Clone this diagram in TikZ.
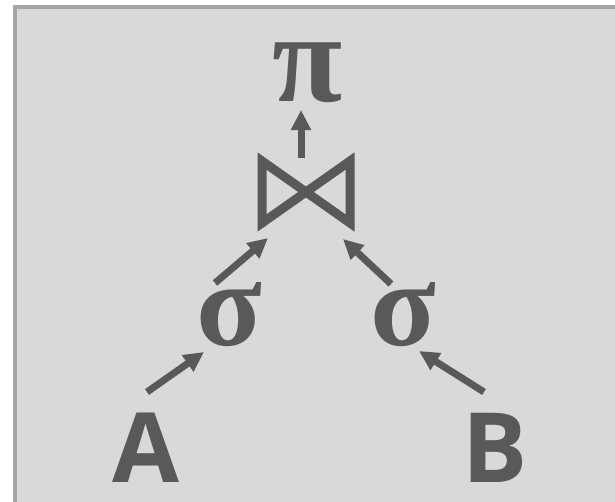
\documentclass[tikz,border=0pt]{standalone}
\usepackage{fontspec}
\setmainfont{Liberation Serif}
\newfontfamily\letterfont{Open Sans}
\usetikzlibrary{arrows.meta}
\definecolor{ink}{HTML}{595959}
\definecolor{frame}{HTML}{A6A6A6}
\definecolor{panel}{HTML}{D9D9D9}
\tikzset{
  glyph/.style={inner sep=0pt, text=ink, anchor=base},
  letter/.style={glyph, font=\letterfont\bfseries\fontsize{97}{97}\selectfont},
  greek/.style={glyph, font=\bfseries\fontsize{121}{121}\selectfont},
  greekb/.style={glyph, font=\bfseries\fontsize{128}{128}\selectfont},
  link/.style={draw=ink, line width=7pt, -{Triangle[width=19pt,length=20pt]}}
}
\begin{document}
\begin{tikzpicture}[x=1pt,y=-1pt]
\useasboundingbox (0,0) rectangle (615,501);
\fill[white] (0,0) rectangle (615,501);
\draw[frame, fill=panel, line width=4pt] (15,7) rectangle (640,530);
% glyphs
\node[letter] (A) at (146,482) {A};
\node[letter] (B) at (495,482) {B};
\node[greek] (s1) at (229,345) {σ};
\node[greek] (s2) at (403,345) {σ};
\node[greekb] (pi) at (308,101) {π};
% join symbol
\draw[ink, line width=9pt, miter limit=20] (262,161) -- (350,223) -- (350,161) -- (262,223) -- cycle;
\coordinate (join) at (306,192);
% arrow ends
\coordinate (a1) at (147,392); \coordinate (a2) at (204,352);
\coordinate (b1) at (484,392); \coordinate (b2) at (419,351);
\coordinate (c1) at (215,283); \coordinate (c2) at (268,238);
\coordinate (d1) at (391,284); \coordinate (d2) at (343,239);
\coordinate (e1) at (301,158); \coordinate (e2) at (301,110);
\draw[link] (a1) -- (a2);
\draw[link] (b1) -- (b2);
\draw[link] (c1) -- (c2);
\draw[link] (d1) -- (d2);
\draw[link] (e1) -- (e2);
\end{tikzpicture}
\end{document}
